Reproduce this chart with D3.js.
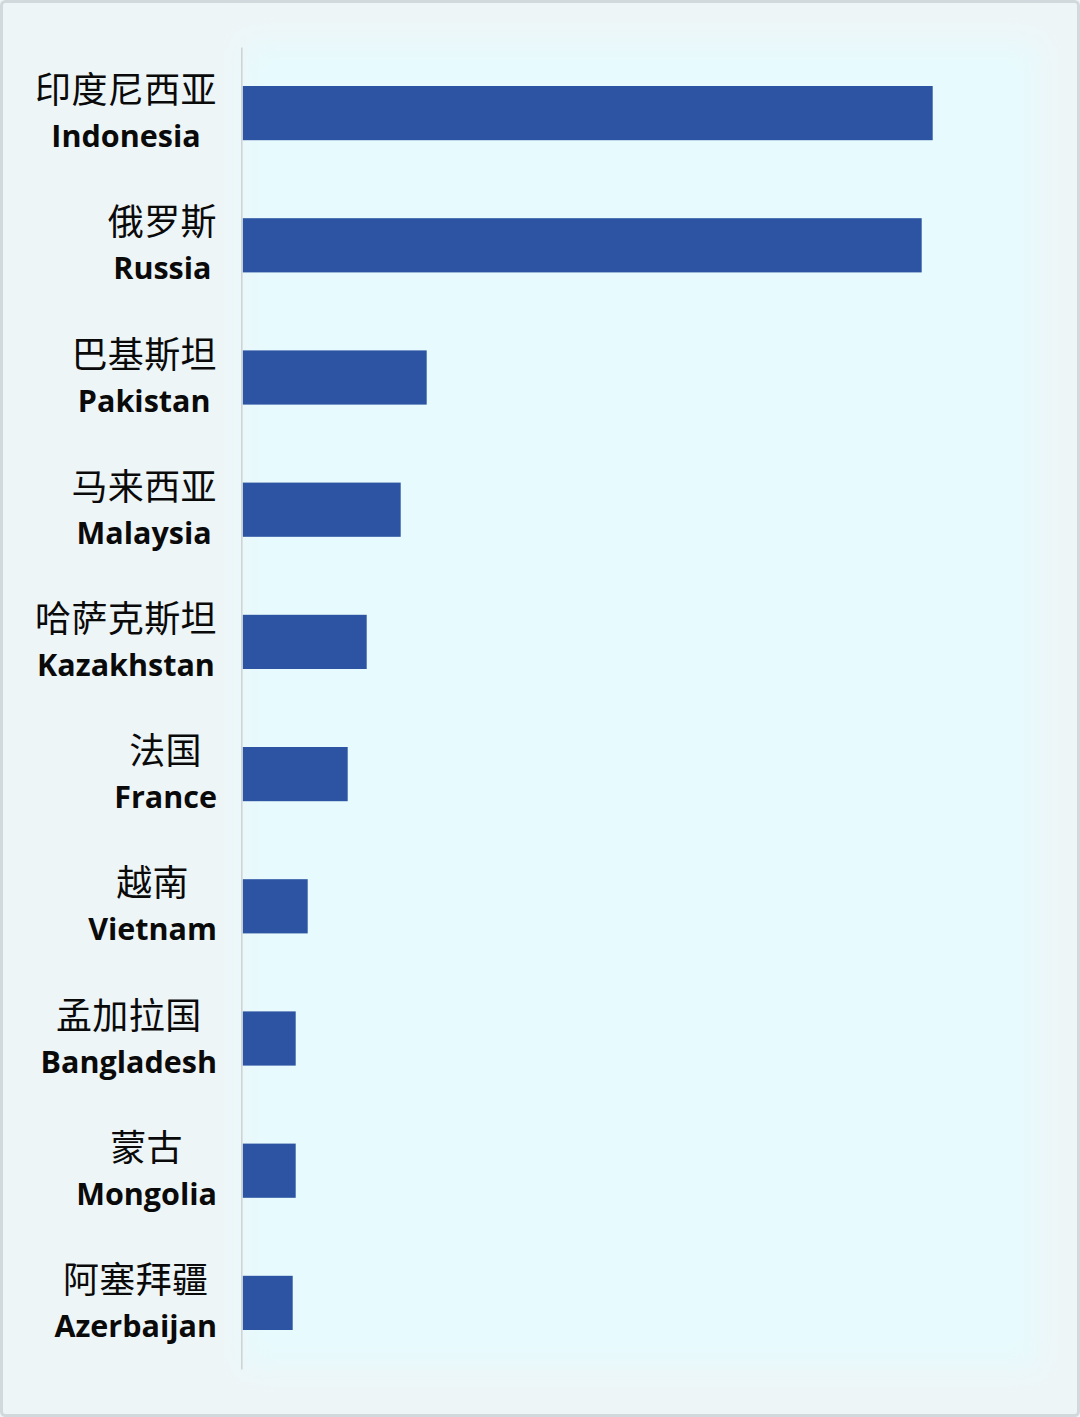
<!DOCTYPE html>
<html>
<head>
<meta charset="utf-8">
<script src="https://cdn.jsdelivr.net/npm/d3@7"></script>
<style>
  html, body { margin: 0; padding: 0; background: #eef5f7; }
  svg { display: block; }
</style>
</head>
<body>
<svg id="chart" width="1080" height="1417"></svg>
<script>
// ---- data ----
const categoriesZh = ["印度尼西亚", "俄罗斯", "巴基斯坦", "马来西亚", "哈萨克斯坦", "法国", "越南", "孟加拉国", "蒙古", "阿塞拜疆"];
const categoriesEn = ["Indonesia", "Russia", "Pakistan", "Malaysia", "Kazakhstan", "France", "Vietnam", "Bangladesh", "Mongolia", "Azerbaijan"];
const values = [69.0, 67.9, 18.4, 15.8, 12.4, 10.5, 6.5, 5.3, 5.3, 5.0];

const W = 1080, H = 1417;
const svg = d3.select("#chart");

// frame
const defs = svg.append("defs");
const blur = defs.append("filter").attr("id", "soft").attr("x", "-10%").attr("y", "-10%").attr("width", "120%").attr("height", "120%");
blur.append("feGaussianBlur").attr("stdDeviation", 14);

svg.append("rect").attr("x", 0).attr("y", 0).attr("width", W).attr("height", H).attr("fill", "#eef5f7");
svg.append("rect").attr("x", 241).attr("y", 40).attr("width", 800).attr("height", 1330)
  .attr("fill", "#e7fafd").attr("filter", "url(#soft)");
svg.append("rect").attr("x", 1.5).attr("y", 1.5).attr("width", W - 3).attr("height", H - 3)
  .attr("rx", 4).attr("fill", "none").attr("stroke", "#d2d9dc").attr("stroke-width", 3);

// scales
const x0 = 242.7;
const x = d3.scaleLinear().domain([0, 70]).range([x0, x0 + 700]);
const y = d3.scaleBand().domain(categoriesEn).range([47, 1369]).paddingInner(0.59).paddingOuter(0.295);

// bars
svg.append("g").selectAll("rect").data(values).join("rect")
  .attr("x", x(0))
  .attr("y", (d, i) => y(categoriesEn[i]))
  .attr("width", d => x(d) - x(0))
  .attr("height", y.bandwidth())
  .attr("fill", "#2c54a2");

// axis line
const axis = d3.axisLeft(y).tickSize(0).tickFormat("");
const ag = svg.append("g").attr("transform", "translate(241.3,0)").call(axis);
ag.select(".domain").attr("stroke", "#cfd3d6").attr("stroke-width", 1.6);

// labels: block right-aligned at 217, each line centered in block
const labelRight = 217;
const lg = svg.append("g");
categoriesEn.forEach((en, i) => {
  const cy = y(en) + y.bandwidth() / 2;
  const g = lg.append("g");
  const zh = g.append("text").text(categoriesZh[i])
    .attr("y", cy - 10)
    .attr("font-family", "'Noto Sans CJK SC', sans-serif")
    .attr("font-size", 36)
    .attr("letter-spacing", 0.4)
    .attr("font-weight", 400)
    .attr("fill", "#0a0a0a")
    .attr("text-anchor", "middle");
  const eng = g.append("text").text(en)
    .attr("y", cy + 34)
    .attr("font-family", "'Open Sans', sans-serif")
    .attr("font-size", 30.5)
    .attr("font-weight", 700)
    .attr("fill", "#0a0a0a")
    .attr("text-anchor", "middle");
  const w = Math.max(zh.node().getComputedTextLength(), eng.node().getComputedTextLength());
  const cx = labelRight - w / 2;
  zh.attr("x", cx);
  eng.attr("x", cx);
});
</script>
</body>
</html>
